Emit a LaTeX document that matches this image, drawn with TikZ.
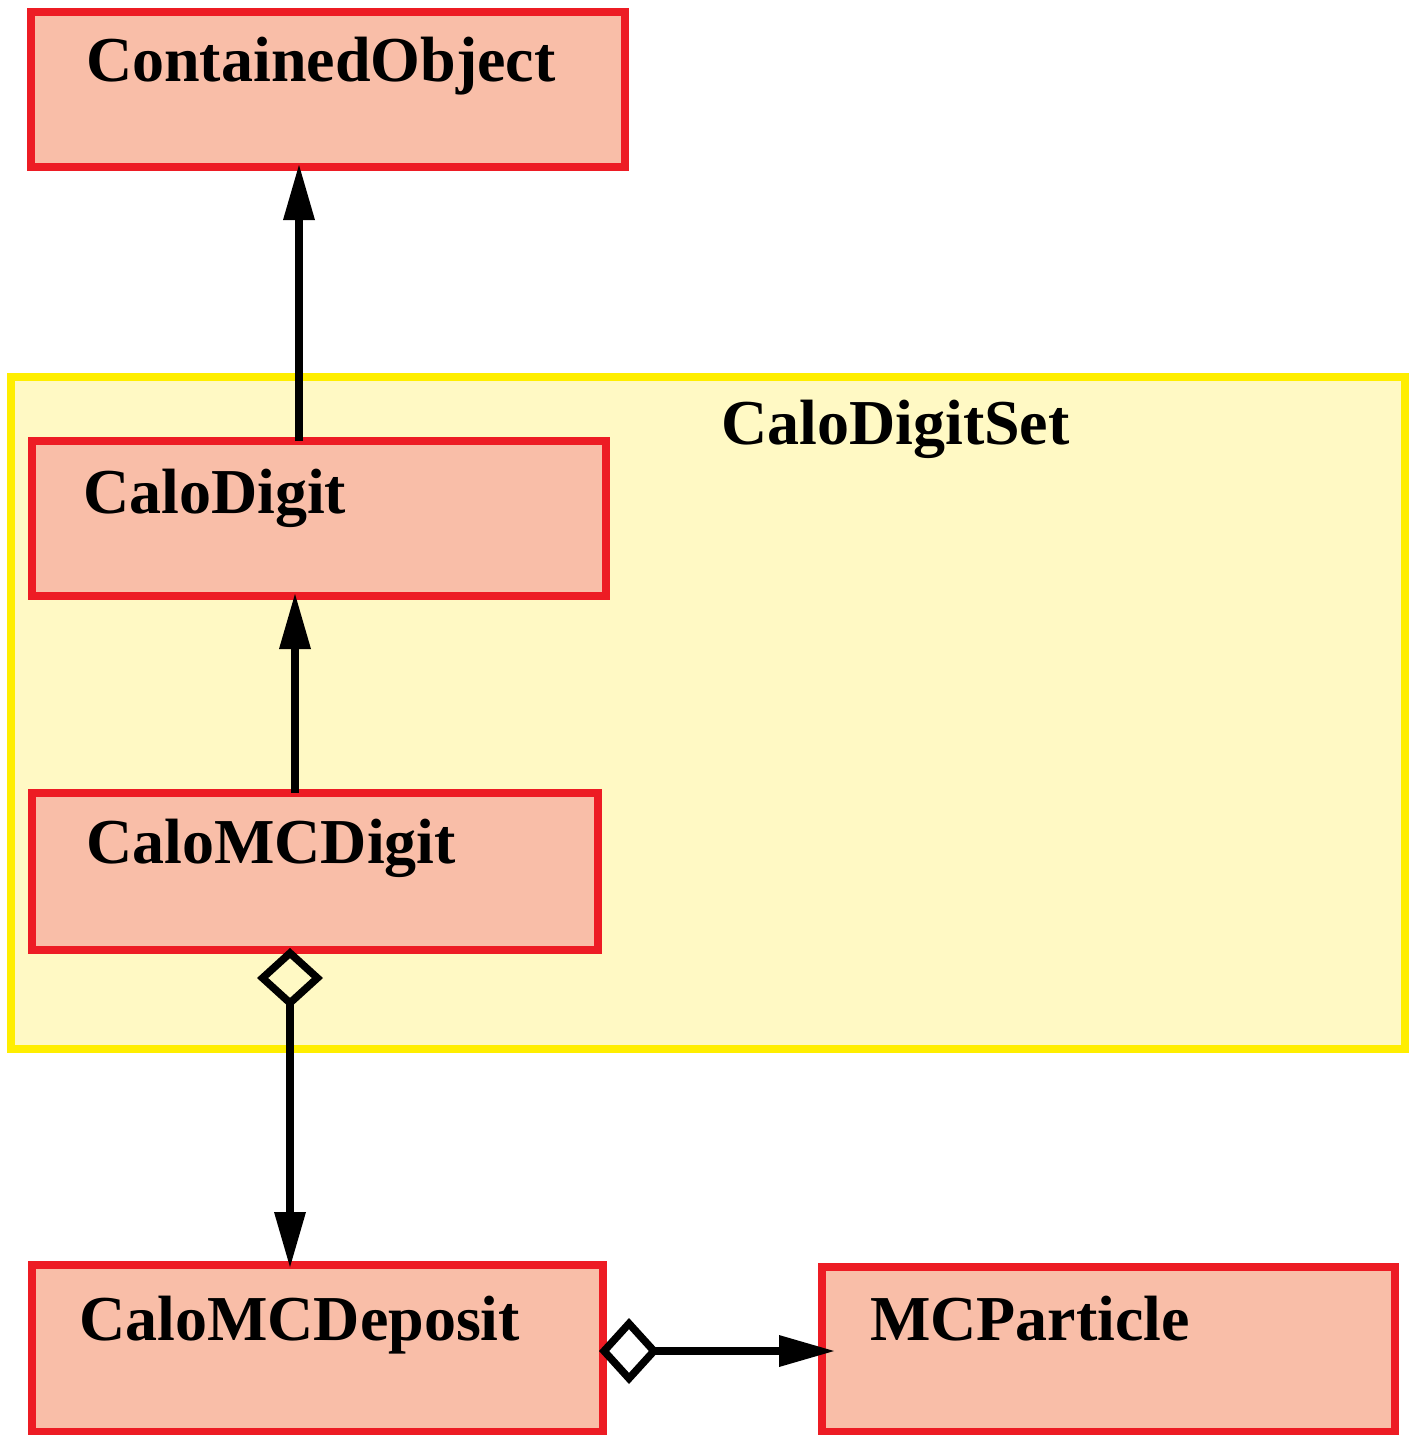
\documentclass[tikz,border=0pt]{standalone}
\usepackage{fontspec}
\setmainfont{Liberation Serif}
\usetikzlibrary{arrows.meta}
\definecolor{boxred}{RGB}{237,28,36}
\definecolor{boxfill}{RGB}{249,190,168}
\definecolor{pkgline}{RGB}{255,238,0}
\definecolor{pkgfill}{RGB}{255,249,196}
\begin{document}
\begin{tikzpicture}[x=1pt,y=-1pt,
  classbox/.style={draw=boxred,fill=boxfill,line width=7.5pt,anchor=north west,
    inner sep=0pt,outer sep=0pt},
  pkgbox/.style={draw=pkgline,fill=pkgfill,line width=7.5pt,anchor=north west,
    inner sep=0pt,outer sep=0pt},
  title/.style={anchor=base west,inner sep=0pt,
    font=\fontsize{64}{70}\selectfont\bfseries},
  conn/.style={line width=7.5pt},
  headtip/.style={-{Triangle[length=55pt,width=32pt,line width=0pt]}},
  inherit/.style={conn,headtip},
  aggr/.style={conn,{Diamond[open,length=60pt,width=66pt,line join=miter]}-{Triangle[length=55pt,width=32pt,line width=0pt]}}]
\useasboundingbox (0,0) rectangle (1415,1435);

% package frame
\node[pkgbox,minimum width=1394pt,minimum height=672pt] (set) at (11,377) {};
\node[title] (settxt) at (721,444) {CaloDigitSet};

% classes
\node[classbox,minimum width=594pt,minimum height=155pt] (cobj) at (31,12) {};
\node[classbox,minimum width=574pt,minimum height=155pt] (digit) at (32,441) {};
\node[classbox,minimum width=566pt,minimum height=157pt] (mcdigit) at (32,793) {};
\node[classbox,minimum width=571pt,minimum height=167pt] (deposit) at (32,1265) {};
\node[classbox,minimum width=573pt,minimum height=165pt] (particle) at (822,1267) {};

\node[title] (cobjtxt) at (86,81) {ContainedObject};
\node[title] (digittxt) at (83,513) {CaloDigit};
\node[title] (mcdigittxt) at (86,863) {CaloMCDigit};
\node[title] (deptxt) at (79,1340) {CaloMCDeposit};
\node[title] (parttxt) at (870,1340) {MCParticle};

% connector guides
\coordinate (c1) at (299,0);
\coordinate (c2) at (295,0);
\coordinate (c3) at (290,0);
\coordinate (c4) at (0,1351);

% inheritance
\draw[inherit,shorten >=-2pt] (c1 |- digit.north) -- (c1 |- cobj.south);
\draw[inherit,shorten >=-2pt] (c2 |- mcdigit.north) -- (c2 |- digit.south);

% aggregation
\draw[aggr,shorten <=-2pt,shorten >=-2pt] (c3 |- mcdigit.south) -- (c3 |- deposit.north);
\draw[aggr,shorten <=-4pt,shorten >=-12pt] (deposit.east |- c4) -- (particle.west |- c4);
\end{tikzpicture}
\end{document}
